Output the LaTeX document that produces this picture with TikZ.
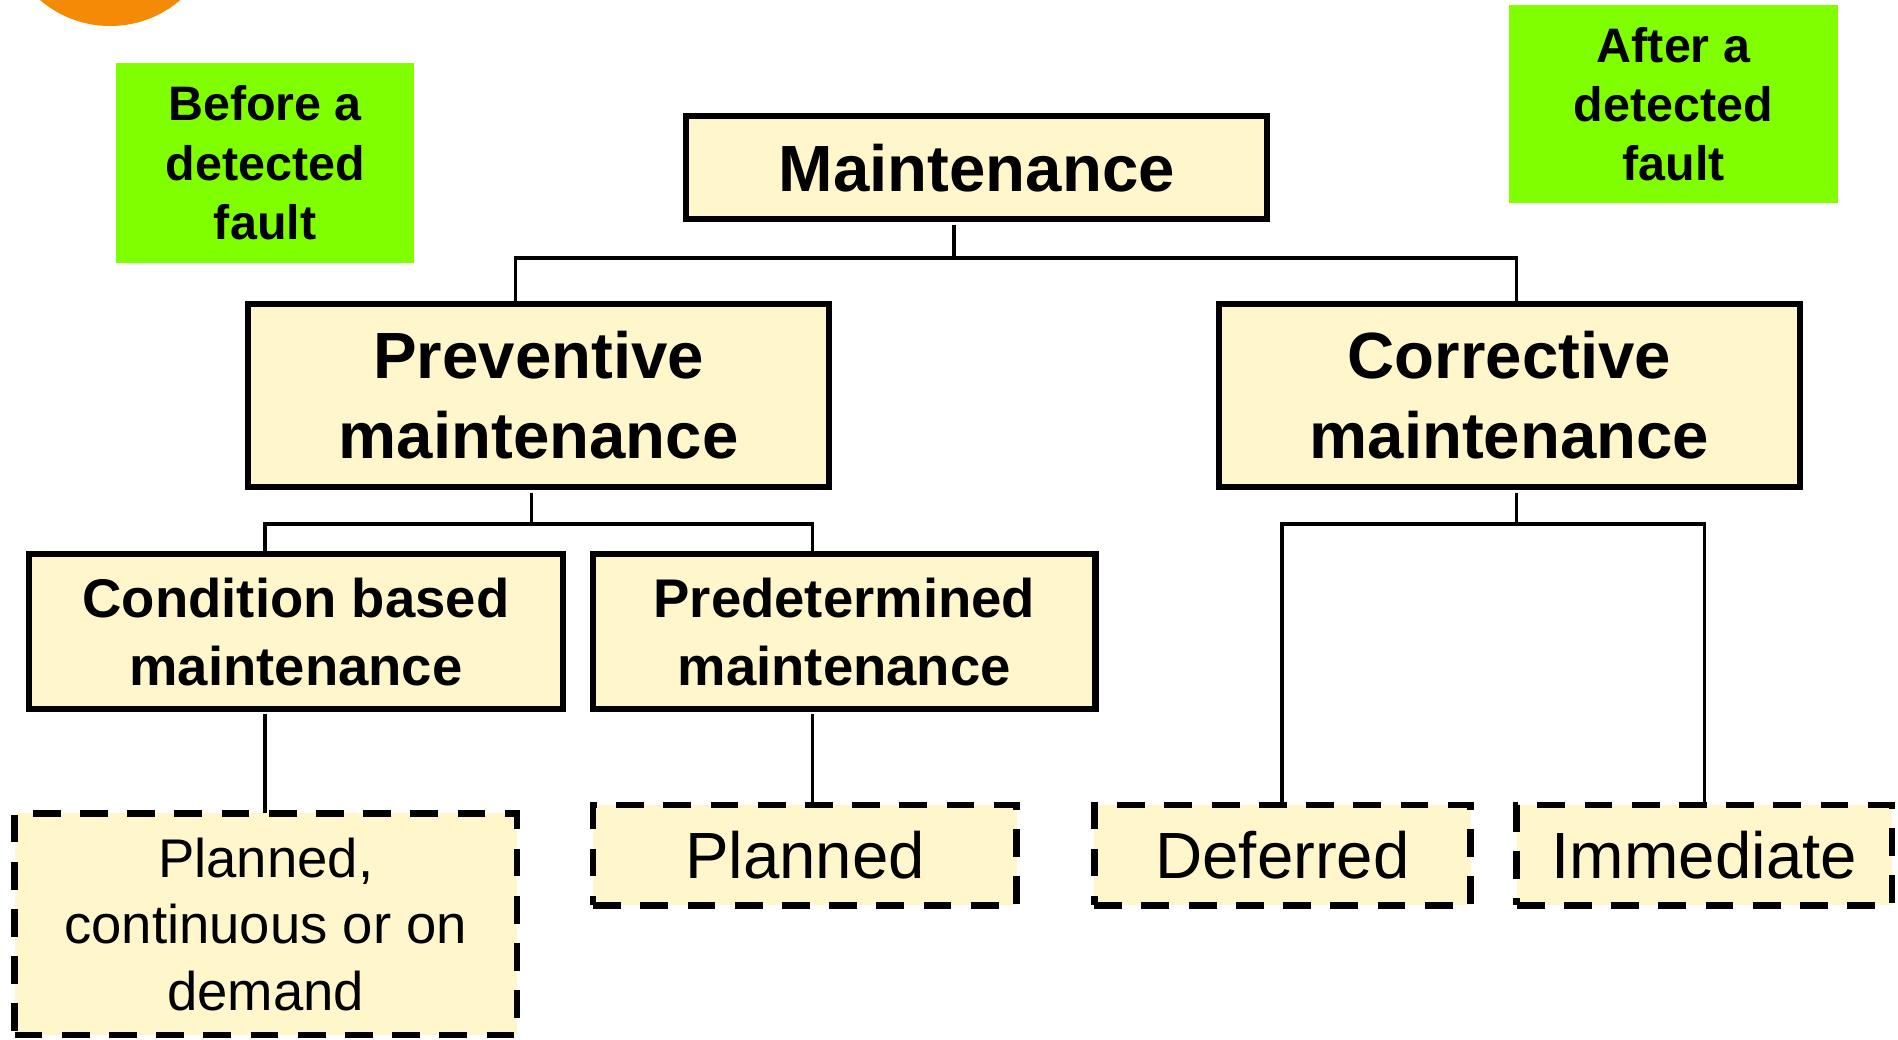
\documentclass[tikz,border=0pt]{standalone}
\usepackage{fontspec}
\setmainfont{Liberation Sans}
\definecolor{boxfill}{HTML}{FFF6CC}
\definecolor{faultgreen}{HTML}{80FF00}
\definecolor{dotorange}{HTML}{F48A05}
\begin{document}
\begin{tikzpicture}[x=1pt,y=-1pt,
  every node/.style={inner sep=0pt, outer sep=0pt, align=center},
  solidbox/.style={draw=black, fill=boxfill, line width=5pt, font=\bfseries},
  leafbox/.style={draw=black, fill=boxfill, line width=5.5pt, dash pattern=on 23pt off 16pt},
  faultbox/.style={fill=faultgreen, font=\bfseries\fontsize{40}{49}\selectfont},
  link/.style={draw=black, line width=2.8pt}
]
\useasboundingbox (0,0) rectangle (1568,859);
\fill[dotorange] (91,-67.5) circle (89);

% green labels
\node[faultbox, minimum width=246pt, minimum height=165pt] (before) at (219,134.5) {Before a\\detected\\fault};
\node[faultbox, minimum width=271pt, minimum height=164pt] (after) at (1382.5,86) {After a\\detected\\fault};

% main boxes
\node[solidbox, minimum width=480pt, minimum height=85pt, font=\bfseries\fontsize{54}{66}\selectfont] (maint) at (807,138.5) {Maintenance};
\node[solidbox, minimum width=480pt, minimum height=151pt, font=\bfseries\fontsize{54}{66}\selectfont] (prev) at (445,326.5) {Preventive\\maintenance};
\node[solidbox, minimum width=480pt, minimum height=151pt, font=\bfseries\fontsize{54}{66}\selectfont] (corr) at (1247,326.5) {Corrective\\maintenance};
\node[solidbox, minimum width=441pt, minimum height=128pt, font=\bfseries\fontsize{45}{56}\selectfont] (cond) at (244.5,522) {Condition based\\maintenance};
\node[solidbox, minimum width=415pt, minimum height=128pt, font=\bfseries\fontsize{45}{56}\selectfont] (pred) at (697.5,522) {Predetermined\\maintenance};

% leaves
\node[leafbox, minimum width=415pt, minimum height=183pt, font=\fontsize{45}{55}\selectfont] (pcod) at (219.5,763.5) {Planned,\\continuous or on\\demand};
\node[leafbox, minimum width=350pt, minimum height=83pt, font=\fontsize{54}{60}\selectfont] (plan) at (665,706.5) {Planned};
\node[leafbox, minimum width=311pt, minimum height=83pt, font=\fontsize{54}{60}\selectfont] (defer) at (1059.5,706.5) {Deferred};
\node[leafbox, minimum width=310pt, minimum height=83pt, font=\fontsize{54}{60}\selectfont] (immed) at (1408,706.5) {Immediate};

% junction coordinates
\coordinate (j0) at (788,213);
\coordinate (jp) at (426,213);
\coordinate (jc) at (1253,213);
\coordinate (k0) at (439,433);
\coordinate (kc) at (219,433);
\coordinate (kd) at (671,433);
\coordinate (m0) at (1253,433);
\coordinate (md) at (1059,433);
\coordinate (mi) at (1408,433);

% connectors level 1
\draw[link] ([yshift=-5pt]maint.south -| j0) -- (j0);
\draw[link] (prev.north -| jp) -- (jp) -- (jc) -- (corr.north -| jc);
% preventive
\draw[link] ([yshift=-5pt]prev.south -| k0) -- (k0);
\draw[link] (cond.north -| kc) -- (kc) -- (kd) -- (pred.north -| kd);
% corrective
\draw[link] ([yshift=-5pt]corr.south -| m0) -- (m0);
\draw[link] (defer.north -| md) -- (md) -- (mi) -- (immed.north -| mi);
% leaves
\draw[link] ([yshift=-4pt]cond.south -| kc) -- (pcod.north -| kc);
\draw[link] ([yshift=-4pt]pred.south -| kd) -- (plan.north -| kd);
\end{tikzpicture}
\end{document}
